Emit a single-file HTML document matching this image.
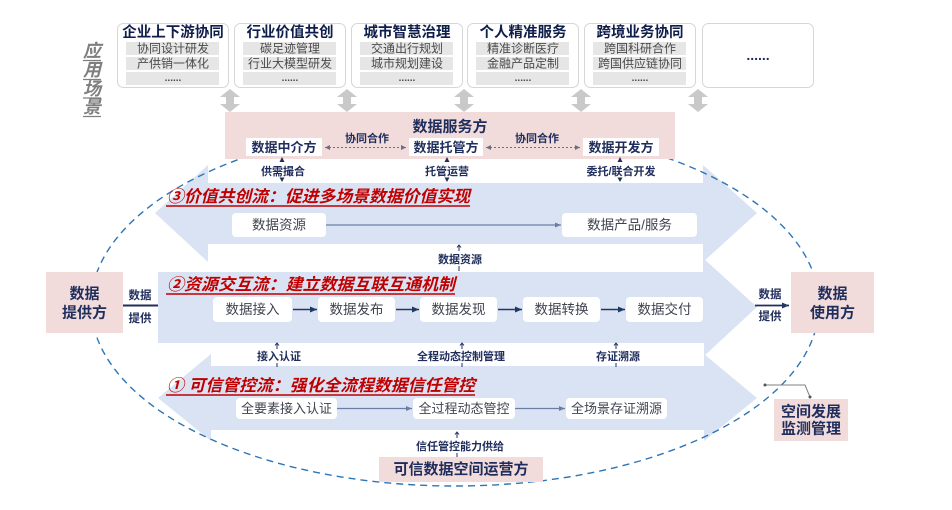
<!DOCTYPE html>
<html><head><meta charset="utf-8">
<style>
html,body{margin:0;padding:0;background:#fff;}
svg{display:block;font-family:"Liberation Sans","Noto Sans CJK SC",sans-serif;}
</style></head><body>
<svg width="952" height="510" viewBox="0 0 952 510" xmlns="http://www.w3.org/2000/svg">
<defs>
<marker id="ah" markerWidth="8" markerHeight="8" refX="7" refY="4" orient="auto" markerUnits="userSpaceOnUse"><path d="M0,1 L7,4 L0,7 z" fill="#1f3864"/></marker>
<marker id="ahg" markerWidth="7" markerHeight="7" refX="6" refY="3.5" orient="auto" markerUnits="userSpaceOnUse"><path d="M0,1 L6,3.5 L0,6 z" fill="#6a7fa6"/></marker>
<marker id="ahd" markerWidth="6" markerHeight="6" refX="5" refY="3" orient="auto" markerUnits="userSpaceOnUse"><path d="M0,0.5 L5,3 L0,5.5 z" fill="#6a6f88"/></marker>
<marker id="ahds" markerWidth="6" markerHeight="6" refX="0" refY="3" orient="auto" markerUnits="userSpaceOnUse"><path d="M5,0.5 L0,3 L5,5.5 z" fill="#6a6f88"/></marker>
</defs>

<!-- 应用场景 -->
<g fill="#7f7f7f" font-size="18" font-weight="bold" font-style="italic" text-anchor="middle">
<text x="92" y="51" dominant-baseline="central">应</text>
<text x="92" y="70" dominant-baseline="central">用</text>
<text x="92" y="89" dominant-baseline="central">场</text>
<text x="92" y="107" dominant-baseline="central">景</text>
</g>
<g stroke="#7f7f7f" stroke-width="1.2">
<line x1="83" y1="60.5" x2="101" y2="60.5"/>
<line x1="83" y1="79.5" x2="101" y2="79.5"/>
<line x1="83" y1="98" x2="101" y2="98"/>
<line x1="83" y1="116.5" x2="101" y2="116.5"/>
</g>

<!-- top cards -->
<g fill="#fff" stroke="#d6d6d6" stroke-width="1">
<rect x="117.5" y="23.5" width="111" height="64" rx="6"/>
<rect x="234.5" y="23.5" width="111" height="64" rx="6"/>
<rect x="351.5" y="23.5" width="111" height="64" rx="6"/>
<rect x="467.5" y="23.5" width="111" height="64" rx="6"/>
<rect x="584.5" y="23.5" width="111" height="64" rx="6"/>
<rect x="702.5" y="23.5" width="111" height="64" rx="6"/>
</g>
<g fill="#e6e6e6">
<rect x="126" y="42" width="93" height="13"/><rect x="126" y="57" width="93" height="13"/><rect x="126" y="72" width="93" height="13"/>
<rect x="243" y="42" width="93" height="13"/><rect x="243" y="57" width="93" height="13"/><rect x="243" y="72" width="93" height="13"/>
<rect x="360" y="42" width="93" height="13"/><rect x="360" y="57" width="93" height="13"/><rect x="360" y="72" width="93" height="13"/>
<rect x="476" y="42" width="93" height="13"/><rect x="476" y="57" width="93" height="13"/><rect x="476" y="72" width="93" height="13"/>
<rect x="593" y="42" width="93" height="13"/><rect x="593" y="57" width="93" height="13"/><rect x="593" y="72" width="93" height="13"/>
</g>
<g fill="#0f1d4a" font-size="14.5" font-weight="bold" text-anchor="middle" dominant-baseline="central">
<text x="173" y="33">企业上下游协同</text>
<text x="290" y="33">行业价值共创</text>
<text x="407" y="33">城市智慧治理</text>
<text x="523" y="33">个人精准服务</text>
<text x="640" y="33">跨境业务协同</text>
</g>
<g fill="#4a4a4a" font-size="12" text-anchor="middle" dominant-baseline="central">
<text x="173" y="48.5">协同设计研发</text><text x="173" y="63.5">产供销一体化</text>
<text x="290" y="48.5">碳足迹管理</text><text x="290" y="63.5">行业大模型研发</text>
<text x="407" y="48.5">交通出行规划</text><text x="407" y="63.5">城市规划建设</text>
<text x="523" y="48.5">精准诊断医疗</text><text x="523" y="63.5">金融产品定制</text>
<text x="640" y="48.5">跨国科研合作</text><text x="640" y="63.5">跨国供应链协同</text>
</g>
<g fill="#4a4a4a" font-size="10" font-weight="bold" text-anchor="middle">
<text x="173" y="81">......</text><text x="290" y="81">......</text><text x="407" y="81">......</text><text x="523" y="81">......</text><text x="640" y="81">......</text>
</g>
<text x="758" y="60" fill="#1f2d5c" font-size="14" font-weight="bold" text-anchor="middle">......</text>

<!-- gray double arrows -->
<g fill="#c9c9c9">
<polygon points="230,89 240,97 234,97 234,104 240,104 230,112 220,104 226,104 226,97 220,97"/>
<polygon points="347,89 357,97 351,97 351,104 357,104 347,112 337,104 343,104 343,97 337,97"/>
<polygon points="464,89 474,97 468,97 468,104 474,104 464,112 454,104 460,104 460,97 454,97"/>
<polygon points="581,89 591,97 585,97 585,104 591,104 581,112 571,104 577,104 577,97 571,97"/>
<polygon points="698,89 708,97 702,97 702,104 708,104 698,112 688,104 694,104 694,97 688,97"/>
</g>

<!-- bands -->
<g fill="#dae3f3">
<polygon points="155,213 208,165 703,165 757,213 703,262 208,262"/>
<polygon points="158,272 703,272 703,258 757,307 703,357 703,343 158,343"/>
<polygon points="158,398 211,354 704,354 757,398 704,441 211,441"/>
</g>
<g fill="#fff">
<rect x="208" y="158" width="495" height="25"/>
<rect x="208" y="244" width="495" height="28"/>
<rect x="211" y="343" width="493" height="23"/>
<rect x="211" y="430" width="493" height="14"/>
</g>

<!-- dashed ellipse -->
<ellipse cx="455" cy="305" rx="364" ry="181" fill="none" stroke="#2e75b6" stroke-width="1.4" stroke-dasharray="7 5"/>

<!-- 数据服务方 -->
<rect x="225" y="112" width="450" height="47" fill="#f2dcdb"/>
<text x="450" y="127" fill="#1f2d5c" font-size="15" font-weight="bold" text-anchor="middle" dominant-baseline="central">数据服务方</text>
<g fill="#fff">
<rect x="246" y="138" width="76" height="18"/>
<rect x="409" y="138" width="74" height="18"/>
<rect x="583" y="138" width="76" height="18"/>
</g>
<g fill="#1f2d5c" font-size="13" font-weight="bold" text-anchor="middle" dominant-baseline="central">
<text x="284" y="147.5">数据中介方</text>
<text x="446" y="147.5">数据托管方</text>
<text x="621" y="147.5">数据开发方</text>
</g>
<g fill="#1f2d5c" font-size="11" font-weight="bold" text-anchor="middle" dominant-baseline="central">
<text x="367" y="139">协同合作</text>
<text x="537" y="139">协同合作</text>
</g>
<g stroke="#6a6f88" stroke-width="1" stroke-dasharray="2 2">
<line x1="325" y1="147.5" x2="406" y2="147.5" marker-start="url(#ahds)" marker-end="url(#ahd)"/>
<line x1="486" y1="147.5" x2="580" y2="147.5" marker-start="url(#ahds)" marker-end="url(#ahd)"/>
</g>

<!-- labels below service box -->
<g fill="#1f2d5c" font-size="11" font-weight="bold" text-anchor="middle" dominant-baseline="central">
<text x="283" y="172">供需撮合</text>
<text x="447" y="172">托管运营</text>
<text x="621" y="172">委托/联合开发</text>
</g>
<g fill="#1f2d5c">
<polygon points="282,157 279.5,162 284.5,162"/><polygon points="282,182 279.5,177.5 284.5,177.5"/>
<polygon points="447,157 444.5,162 449.5,162"/><polygon points="447,182 444.5,177.5 449.5,177.5"/>
<polygon points="620,157 617.5,162 622.5,162"/><polygon points="620,182 617.5,177.5 622.5,177.5"/>
</g>

<!-- red titles -->
<g fill="#c00000" font-size="16.5" font-weight="bold" font-style="italic" dominant-baseline="central">
<text x="167" y="197" textLength="303" lengthAdjust="spacingAndGlyphs">③价值共创流：促进多场景数据价值实现</text>
<text x="167" y="285" textLength="288" lengthAdjust="spacingAndGlyphs">②资源交互流：建立数据互联互通机制</text>
<text x="167" y="386" textLength="308" lengthAdjust="spacingAndGlyphs">① 可信管控流：强化全流程数据信任管控</text>
</g>
<g stroke="#c00000" stroke-width="1.6">
<line x1="166" y1="206" x2="470" y2="206"/>
<line x1="166" y1="294" x2="455" y2="294"/>
<line x1="166" y1="395" x2="475" y2="395"/>
</g>

<!-- band 3 content -->
<g fill="#fff">
<rect x="232" y="213" width="94" height="24" rx="4"/>
<rect x="562" y="213" width="135" height="24" rx="4"/>
</g>
<line x1="326" y1="225" x2="561" y2="225" stroke="#6a7fa6" stroke-width="1.2" marker-end="url(#ahg)"/>
<g fill="#40444f" font-size="13.5" text-anchor="middle" dominant-baseline="central">
<text x="279" y="225">数据资源</text>
<text x="629.5" y="225">数据产品/服务</text>
</g>

<!-- band 2 content -->
<g fill="#fff">
<rect x="213" y="297" width="79" height="25" rx="4"/>
<rect x="318" y="297" width="77" height="25" rx="4"/>
<rect x="420" y="297" width="77" height="25" rx="4"/>
<rect x="523" y="297" width="77" height="25" rx="4"/>
<rect x="626" y="297" width="77" height="25" rx="4"/>
</g>
<g stroke="#1f3864" stroke-width="1.4">
<line x1="293" y1="309.5" x2="317" y2="309.5" marker-end="url(#ah)"/>
<line x1="396" y1="309.5" x2="419" y2="309.5" marker-end="url(#ah)"/>
<line x1="498" y1="309.5" x2="522" y2="309.5" marker-end="url(#ah)"/>
<line x1="601" y1="309.5" x2="625" y2="309.5" marker-end="url(#ah)"/>
</g>
<g fill="#40444f" font-size="13.5" text-anchor="middle" dominant-baseline="central">
<text x="252.5" y="309.5">数据接入</text>
<text x="356.5" y="309.5">数据发布</text>
<text x="458.5" y="309.5">数据发现</text>
<text x="561.5" y="309.5">数据转换</text>
<text x="664.5" y="309.5">数据交付</text>
</g>

<!-- band 1 content -->
<g fill="#fff">
<rect x="236" y="398" width="101" height="21" rx="4"/>
<rect x="413" y="398" width="102" height="21" rx="4"/>
<rect x="566" y="398" width="101" height="21" rx="4"/>
</g>
<g stroke="#6a7fa6" stroke-width="1.2">
<line x1="337" y1="408.5" x2="412" y2="408.5" marker-end="url(#ahg)"/>
<line x1="515" y1="408.5" x2="565" y2="408.5" marker-end="url(#ahg)"/>
</g>
<g fill="#40444f" font-size="13" text-anchor="middle" dominant-baseline="central">
<text x="286.5" y="408.5">全要素接入认证</text>
<text x="464" y="408.5">全过程动态管控</text>
<text x="616.5" y="408.5">全场景存证溯源</text>
</g>

<!-- between-band labels -->
<g fill="#1f2d5c" font-size="11" font-weight="bold" text-anchor="middle" dominant-baseline="central">
<text x="460" y="260">数据资源</text>
<text x="279" y="357">接入认证</text>
<text x="461" y="357">全程动态控制管理</text>
<text x="618" y="357">存证溯源</text>
<text x="460" y="447">信任管控能力供给</text>
</g>
<g stroke="#1f2d5c" stroke-width="1" fill="none">
<path d="M459,245 V251 M457,247.5 L459,245 L461,247.5 M459,266 V271"/>
<path d="M277,343 V349 M275,345.5 L277,343 L279,345.5 M277,363 V367"/>
<path d="M462,343 V349 M460,345.5 L462,343 L464,345.5 M462,363 V367"/>
<path d="M616,343 V349 M614,345.5 L616,343 L618,345.5 M616,363 V367"/>
<path d="M457,432 V438 M455,434.5 L457,432 L459,434.5 M457,453 V457"/>
</g>

<!-- providers / users -->
<rect x="46" y="272" width="77" height="61" fill="#f2dcdb"/>
<g fill="#1f2d5c" font-size="15" font-weight="bold" text-anchor="middle" dominant-baseline="central">
<text x="84.5" y="294">数据</text>
<text x="84.5" y="313">提供方</text>
</g>
<rect x="791" y="272" width="83" height="61" fill="#f2dcdb"/>
<g fill="#1f2d5c" font-size="15" font-weight="bold" text-anchor="middle" dominant-baseline="central">
<text x="832.5" y="294">数据</text>
<text x="832.5" y="313">使用方</text>
</g>
<g fill="#1f2d5c" font-size="11.5" font-weight="bold" text-anchor="middle" dominant-baseline="central">
<text x="140" y="296">数据</text>
<text x="140" y="319">提供</text>
<text x="770" y="295">数据</text>
<text x="770" y="317">提供</text>
</g>
<line x1="123" y1="305.5" x2="158" y2="305.5" stroke="#1f2d5c" stroke-width="2"/>
<line x1="755" y1="305.5" x2="789" y2="305.5" stroke="#1f2d5c" stroke-width="1.8" marker-end="url(#ah)"/>

<!-- 空间发展监测管理 -->
<rect x="774" y="399" width="74" height="42" fill="#f2dcdb"/>
<g fill="#1f2d5c" font-size="15" font-weight="bold" text-anchor="middle" dominant-baseline="central">
<text x="811" y="412">空间发展</text>
<text x="811" y="429">监测管理</text>
</g>
<polyline points="765,385 805,385 810,397" fill="none" stroke="#808080" stroke-width="1"/>
<circle cx="765" cy="385" r="1.5" fill="#555"/>
<circle cx="810" cy="397" r="1.5" fill="#555"/>

<!-- 可信数据空间运营方 -->
<rect x="379" y="457" width="164" height="25" fill="#f2dcdb"/>
<text x="461" y="469.5" fill="#1f2d5c" font-size="15" font-weight="bold" text-anchor="middle" dominant-baseline="central">可信数据空间运营方</text>
</svg>
</body></html>
